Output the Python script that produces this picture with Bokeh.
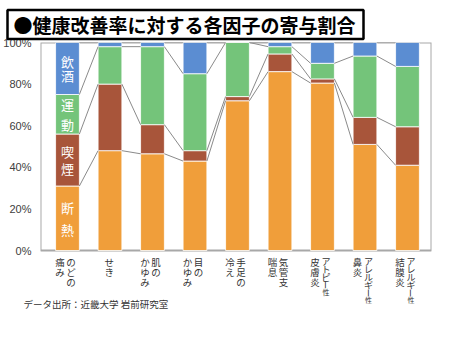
import math
from bokeh.plotting import figure
from bokeh.models import Range1d, FixedTicker, PrintfTickFormatter, ColumnDataSource, Title
from bokeh.core.properties import value
from bokeh.embed import file_html
from bokeh.resources import INLINE

# ---------------- data ----------------
categories = ["のどの痛み", "せき", "肌のかゆみ", "目のかゆみ", "手足の冷え",
              "気管支喘息", "アトピー性皮膚炎", "アレルギー性鼻炎", "アレルギー性結膜炎"]
# vertical label columns, right column first (read order)
label_cols = [["のどの", "痛み"], ["せき"], ["肌の", "かゆみ"], ["目の", "かゆみ"],
              ["手足の", "冷え"], ["気管支", "喘息"], ["アトピー性", "皮膚炎"],
              ["アレルギー性", "鼻炎"], ["アレルギー性", "結膜炎"]]
series = ["断熱", "喫煙", "運動", "飲酒"]
dannetsu = [31, 48, 46.5, 43, 72, 86, 80.5, 51, 41]
kitsuen = [25, 32, 14, 5, 2, 8.5, 2, 13, 18.5]
undou = [19, 18, 37.5, 37, 26, 3.5, 7.5, 29.5, 29]
inshu = [25, 2, 2, 15, 0, 2, 10, 6.5, 11.5]
colors = ["#F09E3A", "#A8553A", "#74C47A", "#5B8DD2"]
yticks = [0, 20, 40, 60, 80, 100]
title_text = "●健康改善率に対する各因子の寄与割合"
source_text = "データ出所：近畿大学 岩前研究室"

# ---------------- layout constants ----------------
W, H = 450, 338
FL, FR = 40, 431           # frame x edges (px)
FT, Y0PX = 42, 250         # 100% and 0% rows (px)
FB = 303                   # extended frame bottom (px)
X0, X1 = 0.365, 9.565
PXU = (FR - FL) / (X1 - X0)
PYU = (Y0PX - FT) / 100.0
BAR_W = 0.56
JP = "Noto Sans CJK JP"

def yd(py):
    return (Y0PX - py) / PYU

xs = list(range(1, len(categories) + 1))

p = figure(width=W, height=H, output_backend="svg", toolbar_location=None,
           x_range=Range1d(X0, X1), y_range=Range1d(yd(FB), 100),
           min_border_left=FL, min_border_right=W - FR,
           min_border_top=FT, min_border_bottom=H - FB)
p.xaxis.visible = False
p.xgrid.grid_line_color = None
p.ygrid.grid_line_color = None
p.outline_line_color = None

ya = p.yaxis[0]
ya.ticker = FixedTicker(ticks=yticks)
ya.formatter = PrintfTickFormatter(format="%d%%")
ya.major_tick_line_color = None
ya.minor_tick_line_color = None
ya.axis_line_color = None
ya.major_label_text_font = "Liberation Sans"
ya.major_label_text_font_size = "11px"
ya.major_label_text_color = "#404040"
ya.major_label_standoff = 3

# plot-area border
p.quad(left=[X0], right=[X1], bottom=[0], top=[100], fill_color=None,
       line_color="#A8A8A8", line_width=2)

src = ColumnDataSource(dict(x=xs, 断熱=dannetsu, 喫煙=kitsuen, 運動=undou, 飲酒=inshu))
p.vbar_stack(series, x="x", width=BAR_W, color=colors, source=src,
             line_color="white", line_width=1, line_alpha=0.8)

# series connector lines
vals = [dannetsu, kitsuen, undou, inshu]
cum = [0.0] * len(xs)
for v in vals:
    cum = [c + a for c, a in zip(cum, v)]
    x0 = [xs[i] + BAR_W / 2 for i in range(len(xs) - 1)]
    x1 = [xs[i + 1] - BAR_W / 2 for i in range(len(xs) - 1)]
    p.segment(x0=x0, y0=cum[:-1], x1=x1, y1=cum[1:], line_color="#8A8A8A", line_width=1)

# labels inside first bar
half = [10.8, 8.5, 10, 6.7]
bottom = 0.0
for name, v, d in zip(series, vals, half):
    mid = bottom + v[0] / 2
    bottom += v[0]
    p.text(x=[xs[0], xs[0]], y=[mid, mid], text=[name[0], name[1]],
           y_offset=[-d, d], text_align="center", text_baseline="middle",
           text_color="white", text_font=value(JP), text_font_size="13px")

# vertical category labels (below the 0% line)
TOP = 256.5
def is_kata(ch):
    return "\u30a0" <= ch <= "\u30ff"

cx, cy, ct, ca, cs = [], [], [], [], []
for xi, cols in zip(xs, label_cols):
    offs = [-0.7] if len(cols) == 1 else [3.5, -7.5]
    for col, off in zip(cols, offs):
        xc = xi + off / PXU
        y = TOP
        for ch in col:
            if ch == "ー":
                h, ang, size = 6.5, math.pi / 2, "9px"
            elif ch == "性":
                h, ang, size = 7.5, 0.0, "7px"
            elif is_kata(ch):
                h, ang, size = 8.2, 0.0, "9px"
            else:
                h, ang, size = 10, 0.0, "9.5px"
            cx.append(xc); cy.append(yd(y + h / 2)); ct.append(ch); ca.append(ang); cs.append(size)
            y += h
p.text(x=cx, y=cy, text=ct, angle=ca, text_font_size=cs, text_align="center",
       text_baseline="middle", text_font=value(JP), text_color="#333333")

# title in a box
p.title = Title(text=title_text, align="left", offset=-33, standoff=7,
                text_font=JP, text_font_size="19px", text_font_style="bold",
                text_color="black", background_fill_color="white",
                border_line_color="black", border_line_width=2.5,
                padding=(6, 8, 1, 1))

# source note
p.add_layout(Title(text=source_text, align="left", offset=-17, standoff=-14,
                   text_font=JP, text_font_size="9.5px", text_font_style="normal",
                   text_color="#333333", vertical_align="top"), "below")

open("out.html", "w").write(file_html(p, INLINE))
